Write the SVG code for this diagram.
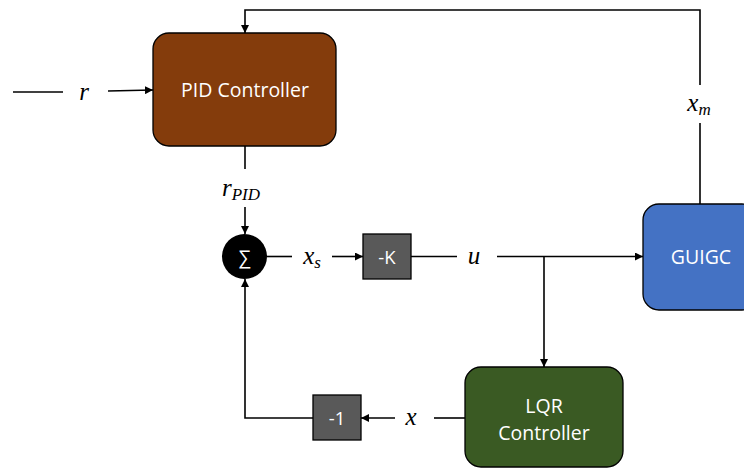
<svg xmlns="http://www.w3.org/2000/svg" width="744" height="468" viewBox="0 0 744 468">
<style>
.lbl{font-family:"Open Sans","Liberation Sans",sans-serif;fill:#ffffff;text-anchor:middle}
.math{font-family:"Liberation Serif","DejaVu Serif",serif;font-style:italic;fill:#000;font-size:25px;text-anchor:middle}
.ln{stroke:#000;stroke-width:1.6;fill:none}
.box{stroke:#000;stroke-width:1.3}
</style>
<defs>
<marker id="ah" viewBox="0 0 10 10" refX="10" refY="5" markerWidth="8" markerHeight="8" markerUnits="userSpaceOnUse" orient="auto">
<path d="M0,0 L10,5 L0,10 z" fill="#000"/>
</marker>
</defs>
<g id="connectors">
<line class="ln" x1="13" y1="92" x2="63" y2="92"/>
<line class="ln" x1="108" y1="91" x2="153" y2="90" marker-end="url(#ah)"/>
<polyline class="ln" points="700,85 700,10 245,10 245,33" marker-end="url(#ah)"/>
<line class="ln" x1="700" y1="123" x2="700" y2="204"/>
<line class="ln" x1="245" y1="146" x2="245" y2="169"/>
<line class="ln" x1="245" y1="207" x2="245" y2="234" marker-end="url(#ah)"/>
<line class="ln" x1="267" y1="256.5" x2="292" y2="256.5"/>
<line class="ln" x1="332" y1="256.5" x2="363" y2="256.5" marker-end="url(#ah)"/>
<line class="ln" x1="411" y1="256.5" x2="457" y2="256.5"/>
<line class="ln" x1="497" y1="256.5" x2="643" y2="256.5" marker-end="url(#ah)"/>
<line class="ln" x1="544" y1="256.5" x2="544" y2="367" marker-end="url(#ah)"/>
<line class="ln" x1="465" y1="418" x2="434" y2="418"/>
<line class="ln" x1="395" y1="418" x2="361" y2="418" marker-end="url(#ah)"/>
<polyline class="ln" points="313,418 245,418 245,279" marker-end="url(#ah)"/>
</g>
<g id="labels">
<text class="math" x="84" y="100">r</text>
<text class="math" x="241" y="196">r<tspan font-size="17" dy="4">PID</tspan></text>
<text class="math" x="312" y="264">x<tspan font-size="17" dy="4">s</tspan></text>
<text class="math" x="474" y="264">u</text>
<text class="math" x="411" y="425">x</text>
<text class="math" x="699" y="111">x<tspan font-size="17" dy="4">m</tspan></text>
</g>
<g id="pid">
<rect class="box" x="153" y="33" width="183" height="113" rx="16" fill="#843C0C"/>
<text class="lbl" x="245" y="97" font-size="19.5">PID Controller</text>
</g>
<g id="sum">
<circle cx="244.5" cy="256.5" r="22.5" fill="#000"/>
<text class="lbl" x="244.5" y="263.5" font-size="19">∑</text>
</g>
<g id="gainK">
<rect class="box" x="363" y="234" width="48" height="45" fill="#595959"/>
<text class="lbl" x="387" y="263.5" font-size="18.5">-K</text>
</g>
<g id="gainNeg1">
<rect class="box" x="313" y="395" width="48" height="45" fill="#595959"/>
<text class="lbl" x="337" y="424.5" font-size="18.5">-1</text>
</g>
<g id="guigc">
<rect class="box" x="643" y="204" width="115" height="106" rx="16" fill="#4472C4"/>
<text class="lbl" x="701" y="264" font-size="19.5">GUIGC</text>
</g>
<g id="lqr">
<rect class="box" x="465" y="367" width="158" height="100" rx="16" fill="#3A5A23"/>
<text class="lbl" x="544" y="413" font-size="19.5">LQR</text>
<text class="lbl" x="544" y="440" font-size="19.5">Controller</text>
</g>
</svg>
